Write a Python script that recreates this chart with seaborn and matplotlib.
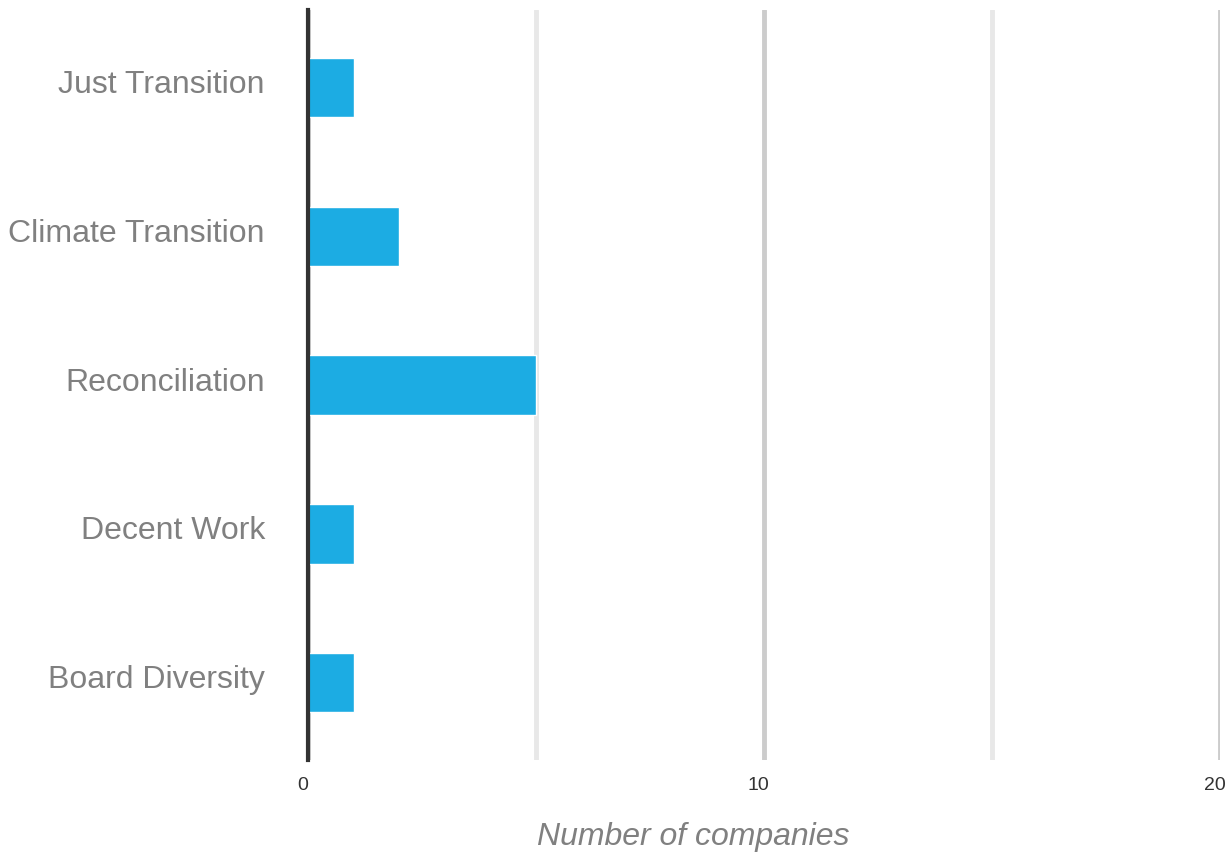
"""Horizontal bar chart: number of companies per disclosure topic."""

import matplotlib

matplotlib.use("Agg")
import matplotlib.pyplot as plt  # noqa: E402
import matplotlib.transforms as mtrans  # noqa: E402
import pandas as pd  # noqa: E402
import seaborn as sns  # noqa: E402
from matplotlib.ticker import MultipleLocator  # noqa: E402

topics = [
    "Just Transition",
    "Climate Transition",
    "Reconciliation",
    "Decent Work",
    "Board Diversity",
]
companies = [1, 2, 5, 1, 1]
x_ticks = [0, 10, 20]

BAR = "#1cace3"
LABEL_GREY = "#808080"

sns.set_style("white")
plt.rcParams["font.family"] = ["Liberation Sans", "DejaVu Sans"]

df = pd.DataFrame({"topic": topics, "companies": companies})

fig = plt.figure(figsize=(12.32, 8.55), dpi=100)
ax = fig.add_axes([0.25, 0.111, 0.74, 0.877])

sns.barplot(
    data=df, x="companies", y="topic", orient="h",
    color=BAR, width=0.4, saturation=1, ax=ax, zorder=3,
)

ax.set_xlim(0, 20)
ax.set_ylim(4.52, -0.52)
ax.set_xticks(x_ticks)
ax.xaxis.set_minor_locator(MultipleLocator(5))
ax.grid(axis="x", which="major", color="#cccccc", lw=3.5, zorder=0)
ax.grid(axis="x", which="minor", color="#e8e8e8", lw=3.5, zorder=0)
ax.grid(axis="y", visible=False)

for side in ["top", "right", "bottom"]:
    ax.spines[side].set_visible(False)
ax.spines["left"].set_color("#333333")
ax.spines["left"].set_linewidth(3)
ax.spines["left"].set_zorder(4)

ax.tick_params(axis="x", which="both", length=0, pad=12, labelsize=14, labelcolor="#333333")
ax.tick_params(axis="y", length=0, pad=31, labelsize=23, labelcolor=LABEL_GREY)

# tick numbers sit a little left of their grid lines, category names a bit high
xshift = mtrans.ScaledTranslation(-5 / 100, 0, fig.dpi_scale_trans)
for lbl in ax.get_xticklabels():
    lbl.set_transform(lbl.get_transform() + xshift)
yshift = mtrans.ScaledTranslation(0, 6 / 100, fig.dpi_scale_trans)
for lbl in ax.get_yticklabels():
    lbl.set_transform(lbl.get_transform() + yshift)

ax.set_ylabel("")
ax.set_xlabel("Number of companies", fontsize=23, color=LABEL_GREY, style="italic")
ax.xaxis.set_label_coords(0.423, -0.082)

fig.savefig("out.png", dpi=100)
plt.close(fig)
